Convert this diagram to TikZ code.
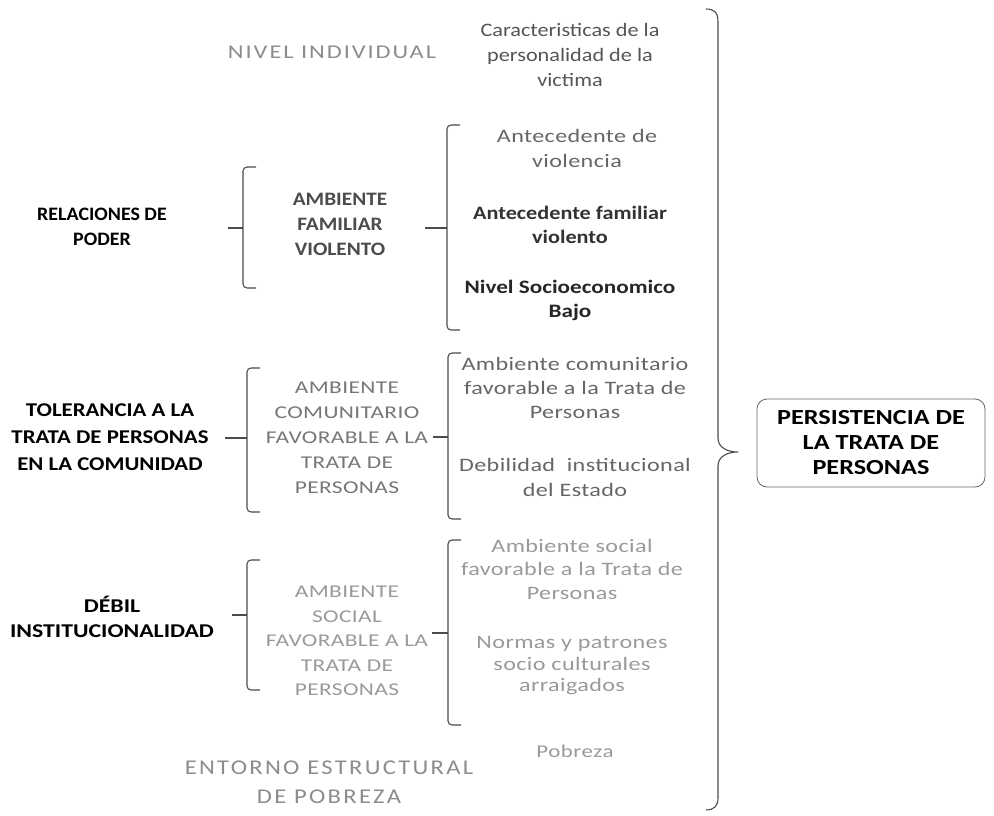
\documentclass[tikz,border=0pt]{standalone}
\usepackage{fontspec}
\setmainfont{Carlito}
\newfontfamily\stA[FakeStretch=1.05]{Carlito}
\newfontfamily\stB[FakeStretch=1.12]{Carlito}
\newfontfamily\stC[FakeStretch=1.17]{Carlito}
\newfontfamily\stD[FakeStretch=1.22]{Carlito}
\newfontfamily\stE[FakeStretch=1.27,LetterSpace=2]{Carlito}
\newfontfamily\stF[FakeStretch=1.25,LetterSpace=10]{Carlito}
\newfontfamily\stG[FakeStretch=1.3,LetterSpace=2]{Carlito}
\newfontfamily\stH[FakeStretch=1.17,LetterSpace=11]{Carlito}
\newfontfamily\stI[FakeStretch=1.27,LetterSpace=3]{Carlito}
\begin{document}
\begin{tikzpicture}[x=1pt,y=-1pt,
  txt/.style={align=center, inner sep=0pt},
  brk/.style={draw=black!70, line width=1.1pt, rounded corners=4pt},
  conn/.style={draw=black!70, line width=1.1pt}]
\definecolor{g1}{HTML}{8C8C8C}
\definecolor{g2}{HTML}{555555}
\definecolor{g3}{HTML}{666666}
\definecolor{g4}{HTML}{333333}
\definecolor{g5}{HTML}{777777}
\definecolor{g6}{HTML}{9A9A9A}
\useasboundingbox[fill=white] (0,0) rectangle (994,816);
% nodes
\node[txt, text=g1, font=\stF\fontsize{19.5}{26}\selectfont] (ni) at (332,52) {NIVEL INDIVIDUAL};
\node[txt, text=g2, font=\stC\fontsize{19}{25}\selectfont] (car) at (570,55) {Caracteristicas de la\\personalidad de la\\victima};
\node[txt, text=g3, font=\stE\fontsize{19}{25}\selectfont] (av) at (577,148) {Antecedente de\\violencia};
\node[txt, text=g4, font=\stC\fontsize{19}{24}\selectfont\bfseries] (afv) at (570,225) {Antecedente familiar\\violento};
\node[txt, text=black!85, font=\stD\fontsize{19}{24}\selectfont\bfseries] (nsb) at (570,300) {Nivel Socioeconomico\\Bajo};
\node[txt, text=black!70, font=\stB\fontsize{19}{25}\selectfont\bfseries] (amf) at (340,224) {AMBIENTE\\FAMILIAR\\VIOLENTO};
\node[txt, text=black, font=\stA\fontsize{19}{25}\selectfont\bfseries] (rp) at (102,227) {RELACIONES DE\\PODER};
\node[txt, text=black, font=\stC\fontsize{19.5}{27}\selectfont\bfseries] (tol) at (110,437) {TOLERANCIA A LA\\TRATA DE PERSONAS\\EN LA COMUNIDAD};
\node[txt, text=g5, font=\stG\fontsize{18}{25}\selectfont] (acm) at (347,438) {AMBIENTE\\COMUNITARIO\\FAVORABLE A LA\\TRATA DE\\PERSONAS};
\node[txt, text=g3, font=\stE\fontsize{19}{24}\selectfont] (acf) at (575,388) {Ambiente comunitario\\favorable a la Trata de\\Personas};
\node[txt, text=g3, font=\stE\fontsize{19}{25}\selectfont] (die) at (575,477) {Debilidad~ institucional\\del Estado};
\node[txt, text=black, font=\stD\fontsize{19.5}{25}\selectfont\bfseries] (dib) at (112,617) {DÉBIL\\INSTITUCIONALIDAD};
\node[txt, text=g6, font=\stG\fontsize{18}{24.5}\selectfont] (asf) at (347,641) {AMBIENTE\\SOCIAL\\FAVORABLE A LA\\TRATA DE\\PERSONAS};
\node[txt, text=g6, font=\stE\fontsize{19}{23.5}\selectfont] (asr) at (572,569) {Ambiente social\\favorable a la Trata de\\Personas};
\node[txt, text=g6, font=\stE\fontsize{19}{21.5}\selectfont] (nor) at (572,666) {Normas y patrones\\socio culturales\\arraigados};
\node[txt, text=g6, font=\stI\fontsize{18}{23}\selectfont] (pob) at (575,751) {Pobreza};
\node[txt, text=g1, font=\stH\fontsize{21}{29}\selectfont] (ent) at (329,782) {ENTORNO ESTRUCTURAL\\DE POBREZA};
\node[draw=black!60, line width=0.8pt, rounded corners=10pt, minimum width=228pt, minimum height=88pt, align=center, inner sep=0pt,
  font=\stD\fontsize{21.5}{25}\selectfont\bfseries] (per) at (871,443) {PERSISTENCIA DE\\LA TRATA DE\\PERSONAS};
% brackets
\newcommand\mybracket[5]{%
  \draw[brk] (#1+13,#2) -- (#1,#2) -- (#1,#3) -- (#1+13,#3);
  \draw[conn] (#5,#4) -- (#1,#4);}
\mybracket{243}{167}{288}{228}{228}
\mybracket{447}{125}{330}{228}{425}
\mybracket{247}{368}{512}{438}{225}
\mybracket{448}{353}{519}{437}{433}
\mybracket{247}{560}{690}{615}{232}
\mybracket{448}{540}{725}{633}{432}
% big brace
\coordinate (tip) at (738,452);
\draw[draw=black!70, line width=1.1pt] (706,9) .. controls (714,9) and (718,12) .. (718,22) -- (718,438)
  .. controls (718,448) and (728,452) .. (tip) .. controls (728,452) and (718,456) .. (718,466)
  -- (718,798) .. controls (718,806) and (714,810) .. (706,810);
\end{tikzpicture}
\end{document}
